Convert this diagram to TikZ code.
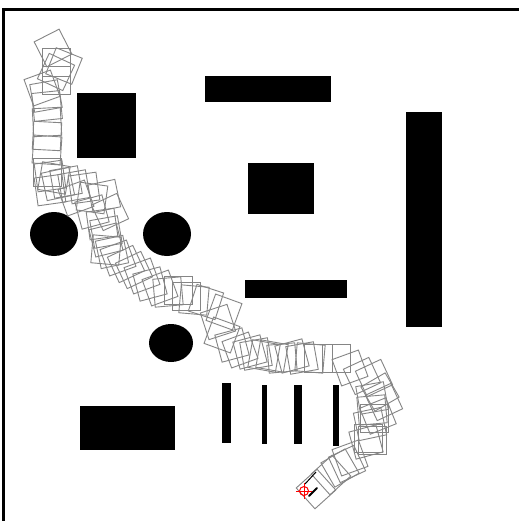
\documentclass[tikz,border=0pt]{standalone}
\usepackage{xcolor}
\usepackage{tikz}
\definecolor{trailgray}{gray}{0.52}
\tikzset{
    block/.style={fill=black, draw=none},
    pose/.style={draw=trailgray, line width=0.9pt, minimum size=28pt, inner sep=0pt, rectangle},
    target/.style={draw=red, line width=1pt}
}

\begin{document}
\begin{tikzpicture}[x=1pt, y=-1pt]
    \useasboundingbox (0,0) rectangle (519,521);
    \fill[white] (0,0) rectangle (519,521);
    \draw[line width=2.6pt] (3.3,521) -- (3.3,9.5) -- (519,9.5);

    % obstacles
    \fill[block] (77,93) rectangle (136,158);
    \fill[block] (205,76) rectangle (331,102);
    \fill[block] (248,163) rectangle (314,214);
    \fill[block] (406,112) rectangle (442,327);
    \fill[block] (245,280) rectangle (347,298);
    \fill[block] (80,406) rectangle (175,450);
    \fill[block] (222,383) rectangle (231,443);
    \fill[block] (262,385) rectangle (267,444);
    \fill[block] (294,385) rectangle (302,444);
    \fill[block] (333,385) rectangle (339,446);
    \fill[block] (54,234) ellipse (24 and 22);
    \fill[block] (167,234) ellipse (24 and 22);
    \fill[block] (171,343) ellipse (22 and 19);

    % trail of poses
    \foreach \px/\py/\pa in {
        53/48/27, 56/62/0, 64/66/-22, 56/72/-25, 56/80/0, 42/88/20, 46/96/10,
        47/106/6, 47/122/3, 47/136/-3, 47/150/-4, 47/172/0, 50/176/8,
        50/190/8, 54/178/-10, 58/184/12, 66/182/10, 74/186/10, 84/188/8,
        76/198/20, 92/198/-8, 92/212/15, 104/196/12, 110/212/25,
        102/224/8, 106/232/10, 106/240/14, 106/250/-5,
        112/252/12, 118/258/20, 126/264/25, 134/270/25, 142/276/20, 150/284/15,
        160/288/20, 168/292/5, 178/290/0, 186/296/0, 194/300/-5, 206/302/-18,
        218/322/18, 224/312/-20, 222/335/-20, 232/345/15, 240/350/20, 250/352/15,
        256/354/10, 264/356/-10, 272/356/-10, 282/358/5, 292/356/15, 302/358/10,
        310/358/-5, 318/358/0, 336/358/0, 350/368/20, 362/376/25,
        374/378/25, 380/392/30, 384/402/25, 372/398/10, 372/410/5, 374/418/0,
        370/424/12, 378/416/22, 368/438/0, 372/440/0, 366/442/15, 350/458/20,
        347/464/25, 340/468/30, 331/475/42, 316/489/42
    }{
        \node[pose, rotate=\pa] at (\px,\py) {};
    }

    % goal marker
    \draw[line width=1pt] (305,484) -- (316,472);
    \draw[line width=2pt, line cap=round] (309,496) -- (317,488);
    \draw[target] (304,491) circle (4.5);
    \draw[target] (296,491) -- (312,491) (304,483) -- (304,499);
\end{tikzpicture}
\end{document}
